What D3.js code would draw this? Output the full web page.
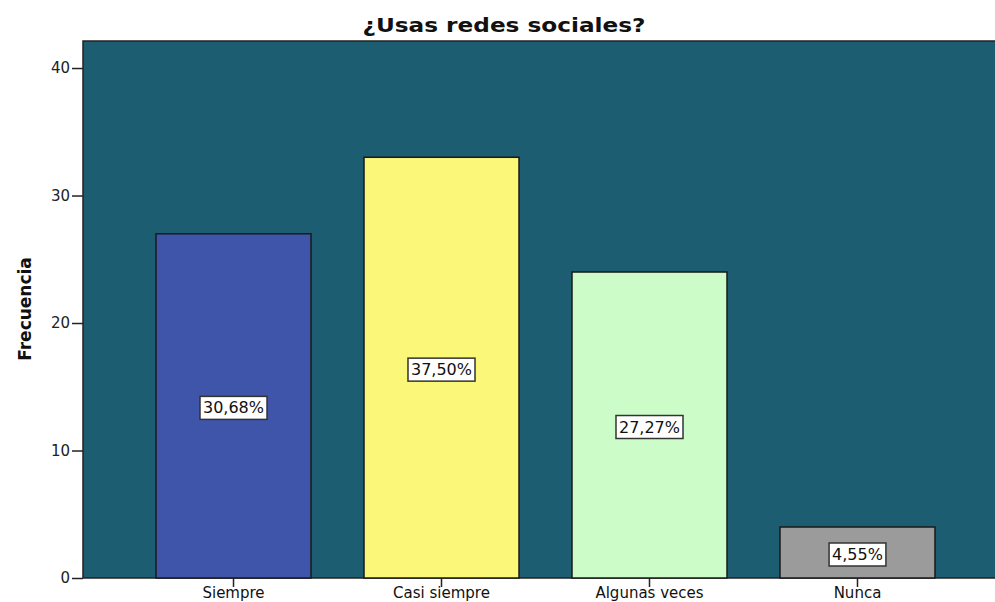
<!DOCTYPE html>
<html><head><meta charset="utf-8">
<script src="https://cdn.jsdelivr.net/npm/d3@7"></script>
<style>body{margin:0;background:#fff}svg{display:block}</style>
</head><body>
<svg id="c" width="995" height="602"></svg>
<script>
const categories = ["Siempre", "Casi siempre", "Algunas veces", "Nunca"];
const values = [27, 33, 24, 4];
const percentLabels = ["30,68%", "37,50%", "27,27%", "4,55%"];
const barColors = ["#3f55a9", "#fbf779", "#ccfdc8", "#9b9b9b"];
const yTicks = [0, 10, 20, 30, 40];

(function () {
const svg = d3.select("#c");
const mLeft = 83, mRight = 1008, mTop = 41, mBottom = 578;
const font = "'DejaVu Sans', Verdana, sans-serif";

const x = d3.scaleBand().domain(categories).range([mLeft, mRight]).paddingInner(0.2548).paddingOuter(0.351);
const y = d3.scaleLinear().domain([0, 42.12]).range([mBottom, mTop]);

svg.append("rect").attr("x", mLeft).attr("y", mTop).attr("width", mRight - mLeft).attr("height", mBottom - mTop)
  .attr("fill", "#1c5d72").attr("stroke", "#222").attr("stroke-width", 1.5);

const g = svg.append("g");
categories.forEach((c, i) => {
  g.append("rect").attr("x", x(c)).attr("y", y(values[i])).attr("width", x.bandwidth())
    .attr("height", y(0) - y(values[i])).attr("fill", barColors[i]).attr("stroke", "#1a1a1a").attr("stroke-width", 1.5);
});

categories.forEach((c, i) => {
  const cx = x(c) + x.bandwidth() / 2;
  const cy = (y(values[i]) + y(0)) / 2 + 2;
  const t = g.append("text").attr("x", cx).attr("y", cy).attr("text-anchor", "middle").attr("dominant-baseline", "central")
    .attr("font-family", font).attr("font-size", 16).attr("fill", "#111").text(percentLabels[i]);
  const bb = t.node().getBBox();
  g.insert("rect", () => t.node()).attr("x", bb.x - 3).attr("y", bb.y - 2).attr("width", bb.width + 6).attr("height", bb.height + 4)
    .attr("fill", "#fff").attr("stroke", "#333").attr("stroke-width", 1.5);
});

const yAxis = svg.append("g").attr("transform", `translate(${mLeft},0)`)
  .call(d3.axisLeft(y).tickValues(yTicks).tickSize(11).tickPadding(2).tickFormat(d3.format("d")));
yAxis.select(".domain").remove();
yAxis.selectAll("line").attr("stroke", "#222").attr("stroke-width", 1.5);
yAxis.selectAll("text").attr("font-family", font).attr("font-size", 15).attr("fill", "#222");

const xAxis = svg.append("g").attr("transform", `translate(0,${mBottom})`)
  .call(d3.axisBottom(x).tickSize(9).tickPadding(0));
xAxis.select(".domain").remove();
xAxis.selectAll("line").attr("stroke", "#222").attr("stroke-width", 1.5);
xAxis.selectAll("text").attr("font-family", font).attr("font-size", 15).attr("fill", "#111");

svg.append("text").attr("x", 504).attr("y", 32).attr("text-anchor", "middle")
  .attr("font-family", font).attr("font-weight", "bold").attr("font-size", 19).attr("fill", "#111")
  .attr("textLength", 283).attr("lengthAdjust", "spacingAndGlyphs")
  .text("¿Usas redes sociales?");

svg.append("text").attr("transform", "translate(31,309) rotate(-90)").attr("text-anchor", "middle")
  .attr("font-family", font).attr("font-weight", "bold").attr("font-size", 17).attr("fill", "#111")
  .text("Frecuencia");
})();
</script>
</body></html>
